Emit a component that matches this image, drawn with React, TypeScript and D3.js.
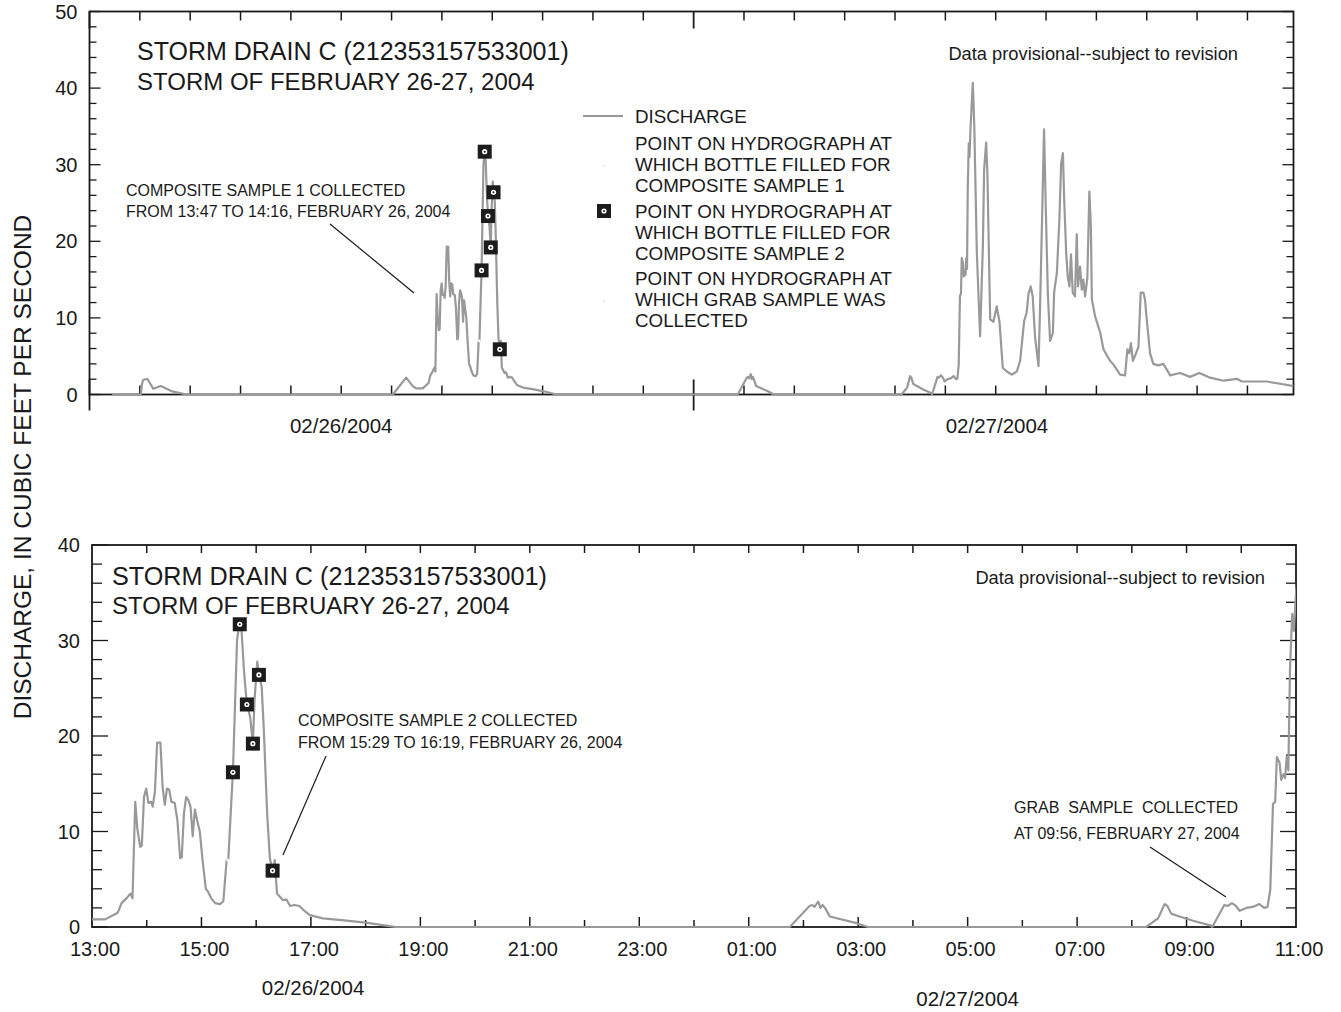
import { useEffect, useRef } from 'react'
import * as d3 from 'd3'

// Discharge record, hours since 00:00 on 02/26/2004
const hours = [
  0.9, 2.04, 2.08, 2.13, 2.3, 2.53, 2.83, 3.25, 3.72, 3.85,
  12.05, 12.58, 12.84, 12.95,
  13.0, 13.24, 13.47, 13.54, 13.63, 13.7, 13.74, 13.79, 13.83, 13.88, 13.91, 13.95, 13.99,
  14.03, 14.08, 14.11, 14.15, 14.19, 14.25, 14.29, 14.33, 14.37, 14.41, 14.45, 14.51, 14.56,
  14.61, 14.64, 14.68, 14.72, 14.76, 14.8, 14.84, 14.88, 14.92, 14.97, 15.02, 15.08, 15.12,
  15.18, 15.25, 15.34, 15.4, 15.46, 15.49, 15.55, 15.575, 15.65, 15.69, 15.73, 15.78, 15.83,
  15.89, 15.94, 15.97, 16.02, 16.05, 16.1, 16.14, 16.2, 16.25, 16.3, 16.34, 16.38, 16.43,
  16.49, 16.55, 16.62, 16.7, 16.79, 16.86, 16.98, 17.22, 17.65, 18.0, 18.44, 18.55,
  25.75, 26.03, 26.11, 26.16, 26.2, 26.27, 26.31, 26.35, 26.4, 26.48, 26.97, 27.18,
  32.26, 32.48, 32.6, 32.65, 32.72, 32.87, 33.12, 33.45, 33.47, 33.69, 33.75, 33.83, 33.9,
  33.97, 34.09, 34.21, 34.33, 34.42, 34.48, 34.53, 34.58, 34.62, 34.65, 34.7, 34.73, 34.77,
  34.8, 34.83, 34.86, 34.89, 34.93, 34.96, 35.0,
  35.09, 35.15, 35.25, 35.38, 35.49, 35.54, 35.62, 35.67, 35.78, 35.91, 36.04, 36.15, 36.28,
  36.44, 36.64, 36.84, 36.97, 37.13, 37.23, 37.3, 37.39, 37.47, 37.56, 37.7, 37.76, 37.85,
  37.92, 37.99, 38.07, 38.16, 38.27, 38.32, 38.43, 38.53, 38.6, 38.67, 38.72, 38.8, 38.86,
  38.93, 38.99, 39.06, 39.15, 39.22, 39.27, 39.35, 39.42, 39.48, 39.55, 39.64, 39.72, 39.78,
  39.82, 39.95, 40.15, 40.28, 40.54, 40.68, 40.94, 41.14, 41.23, 41.31, 41.37, 41.45, 41.54,
  41.67, 41.76, 41.87, 41.93, 42.0, 42.13, 42.26, 42.46, 42.66, 42.93, 43.32, 43.72, 44.09,
  44.52, 45.05, 45.58, 45.78, 46.77, 47.3, 47.83,
]
const discharge = [
  0, 0, 1.3, 1.9, 2.05, 0.75, 1.1, 0.45, 0.1, 0,
  0, 2.2, 1.1, 0.85,
  0.8, 0.8, 1.5, 2.5, 3.0, 3.5, 3.0, 13.1, 10.2, 8.4, 8.5, 13.6, 14.5,
  13.0, 13.1, 12.6, 14.2, 19.3, 19.3, 14.7, 12.8, 14.5, 14.4, 13.1, 13.0, 11.2,
  7.2, 7.3, 11.9, 13.6, 13.3, 12.6, 9.5, 12.3, 11.2, 10.0, 7.0, 4.0, 3.7,
  3.0, 2.5, 2.4, 2.7, 7.0, 7.0, 13.6, 16.2, 30.0, 31.7, 31.3, 26.6, 23.3,
  22.0, 19.2, 23.8, 27.8, 26.4, 25.2, 20.6, 11.9, 7.2, 5.9, 7.0, 3.5, 3.2,
  2.8, 2.9, 2.2, 2.3, 2.2, 1.8, 1.25, 0.9, 0.66, 0.45, 0.1, 0,
  0, 1.7, 2.2, 2.3, 2.1, 2.65, 2.0, 2.3, 1.95, 1.1, 0.4, 0,
  0, 0.9, 2.4, 2.2, 1.4, 1.1, 0.66, 0.15, 0, 2.3, 2.2, 2.5, 2.2,
  1.7, 2.0, 2.1, 2.4, 2.0, 2.1, 3.9, 12.9, 13.1, 17.8, 17.2, 15.4, 16.0,
  15.6, 17.8, 16.4, 26.9, 32.8, 31.0, 34.9,
  40.7, 35.0, 18.5, 7.6, 19.4, 29.4, 32.9, 28.9, 9.8, 9.5, 11.5, 9.5, 3.5,
  3.0, 2.6, 3.0, 4.4, 9.6, 10.7, 13.1, 14.1, 12.8, 7.6, 3.7, 11.0, 24.2,
  34.6, 24.2, 13.3, 7.0, 8.0, 13.3, 15.9, 22.9, 30.2, 31.5, 25.5, 18.5, 15.4,
  14.1, 18.3, 13.3, 12.8, 20.9, 14.1, 16.7, 13.7, 15.0, 12.8, 15.2, 26.5, 22.0,
  12.4, 10.2, 8.1, 5.9, 4.4, 3.9, 2.6, 2.5, 5.9, 5.4, 6.7, 4.4, 5.1,
  6.2, 13.3, 13.3, 12.4, 9.8, 5.4, 4.0, 3.8, 4.0, 2.5, 2.8, 2.3, 2.8,
  2.2, 1.8, 2.05, 1.7, 1.7, 1.4, 1.1,
]

// bottles filled for composite sample 2
const sampleHours = [15.575, 15.7, 15.83, 15.94, 16.05, 16.3]
const sampleValues = [16.2, 31.7, 23.3, 19.2, 26.4, 5.9]
// composite sample 1 point (very faint in the original)
const faintHours = [15.48]
const faintValues = [7.0]

const topYLabels = [0, 10, 20, 30, 40, 50]
const bottomYLabels = [0, 10, 20, 30, 40]
const hourLabels = ['13:00', '15:00', '17:00', '19:00', '21:00', '23:00', '01:00', '03:00', '05:00', '07:00', '09:00', '11:00']
const dateLabels = ['02/26/2004', '02/27/2004']

const FONT = '"Liberation Sans", Arial, Helvetica, sans-serif'
const INK = '#1a1a1a'
const LINE = '#999999'

export default function App() {
  const svgRef = useRef(null)

  useEffect(() => {
    if (!svgRef.current) return
    const width = 1341
    const height = 1012

    d3.select(svgRef.current).selectAll('*').remove()
    const svg = d3
      .select(svgRef.current)
      .attr('width', width)
      .attr('height', height)
      .style('font-family', FONT)

    const data = hours.map((h, i) => ({ h, v: discharge[i] }))

    const text = (g, x, y, s, size, anchor = 'start') =>
      g
        .append('text')
        .attr('x', x)
        .attr('y', y)
        .attr('font-size', size)
        .attr('text-anchor', anchor)
        .attr('fill', INK)
        .style('white-space', 'pre')
        .text(s)

    const seg = (g, x1, y1, x2, y2, w = 1.5) =>
      g
        .append('line')
        .attr('x1', x1)
        .attr('y1', y1)
        .attr('x2', x2)
        .attr('y2', y2)
        .attr('stroke', INK)
        .attr('stroke-width', w)

    const drawMarkers = (g, x, y) => {
      sampleHours.forEach((h, i) => {
        const cx = x(h)
        const cy = y(sampleValues[i])
        g.append('rect')
          .attr('x', cx - 7)
          .attr('y', cy - 7)
          .attr('width', 14)
          .attr('height', 14)
          .attr('fill', '#1c1c1c')
        g.append('circle').attr('cx', cx).attr('cy', cy).attr('r', 2.6).attr('fill', '#fff')
        g.append('circle').attr('cx', cx).attr('cy', cy).attr('r', 1).attr('fill', '#1c1c1c')
      })
      faintHours.forEach((h, i) => {
        g.append('circle').attr('cx', x(h)).attr('cy', y(faintValues[i])).attr('r', 1.4).attr('fill', '#fff')
      })
    }

    // y axis ticks on both sides, label on the left
    const yAxes = (g, x, y, max, minorLen, majorLen, labels) => {
      const [x0, x1] = x.range()
      d3.range(0, max + 1, 2).forEach(v => {
        const len = v % 10 === 0 ? majorLen : minorLen
        seg(g, x0, y(v), x0 + len, y(v), 1.3)
        seg(g, x1, y(v), x1 - len, y(v), 1.3)
      })
      labels.forEach(v => {
        text(g, x0 - 12, y(v), String(v), 20, 'end').attr('dy', '0.35em')
      })
    }

    const frame = (g, x, y) => {
      const [x0, x1] = x.range()
      const [y0, y1] = y.range()
      g.append('rect')
        .attr('x', x0)
        .attr('y', y1)
        .attr('width', x1 - x0)
        .attr('height', y0 - y1)
        .attr('fill', 'none')
        .attr('stroke', INK)
        .attr('stroke-width', 1.8)
    }

    const hydro = (g, x, y, id) => {
      const [x0, x1] = x.range()
      const [y0, y1] = y.range()
      svg
        .append('defs')
        .append('clipPath')
        .attr('id', id)
        .append('rect')
        .attr('x', x0)
        .attr('y', y1 - 2)
        .attr('width', x1 - x0)
        .attr('height', y0 - y1 + 4)
      const line = d3
        .line()
        .x(d => x(d.h))
        .y(d => y(d.v))
      g.append('path')
        .datum(data)
        .attr('clip-path', `url(#${id})`)
        .attr('fill', 'none')
        .attr('stroke', LINE)
        .attr('stroke-width', 2.2)
        .attr('stroke-linejoin', 'round')
        .attr('d', line)
    }

    // ---------- top panel: two days ----------
    const xTop = d3.scaleLinear().domain([0, 47.83]).range([89.5, 1293.5])
    const yTop = d3.scaleLinear().domain([0, 50]).range([394.5, 11.5])
    const top = svg.append('g')

    frame(top, xTop, yTop)
    yAxes(top, xTop, yTop, 50, 7, 11, topYLabels)
    d3.range(2, 48, 2).forEach(h => {
      if (h === 24) return
      seg(top, xTop(h), yTop(0), xTop(h), yTop(0) - 9, 1.5)
      seg(top, xTop(h), yTop(50), xTop(h), yTop(50) + 9, 1.5)
    })
    ;[0, 24].forEach(h => {
      seg(top, xTop(h), yTop(0) - 15, xTop(h), yTop(0) + 16, 1.8)
      seg(top, xTop(h), yTop(50), xTop(h), yTop(50) + 17, 1.8)
    })
    hydro(top, xTop, yTop, 'clip-top')
    drawMarkers(top, xTop, yTop)

    text(top, xTop(10), 433, dateLabels[0], 20.5, 'middle')
    text(top, xTop(36.05), 433, dateLabels[1], 20.5, 'middle')

    text(top, 137, 60, 'STORM DRAIN C (212353157533001)', 25)
    text(top, 137, 90, 'STORM OF FEBRUARY 26-27, 2004', 24)
    text(top, 1238, 60, 'Data provisional--subject to revision', 18.3, 'end')

    // legend
    top.append('line')
      .attr('x1', 583).attr('y1', 116).attr('x2', 623).attr('y2', 116)
      .attr('stroke', LINE).attr('stroke-width', 2.2)
    text(top, 635, 123, 'DISCHARGE', 18.8)
    const legendRows = [
      ['POINT ON HYDROGRAPH AT', 'WHICH BOTTLE FILLED FOR', 'COMPOSITE SAMPLE 1'],
      ['POINT ON HYDROGRAPH AT', 'WHICH BOTTLE FILLED FOR', 'COMPOSITE SAMPLE 2'],
      ['POINT ON HYDROGRAPH AT', 'WHICH GRAB SAMPLE WAS', 'COLLECTED'],
    ]
    legendRows.forEach((rows, i) => {
      rows.forEach((r, j) => text(top, 635, 150 + i * 67.5 + j * 21, r, 18.8))
    })
    top.append('circle').attr('cx', 604).attr('cy', 166).attr('r', 1).attr('fill', '#e4e4e4')
    top.append('circle').attr('cx', 604).attr('cy', 301).attr('r', 1).attr('fill', '#e4e4e4')
    top.append('rect').attr('x', 597).attr('y', 204).attr('width', 14).attr('height', 14).attr('fill', '#1c1c1c')
    top.append('circle').attr('cx', 604).attr('cy', 211).attr('r', 2.6).attr('fill', '#fff')
    top.append('circle').attr('cx', 604).attr('cy', 211).attr('r', 1).attr('fill', '#1c1c1c')

    text(top, 126, 196, 'COMPOSITE SAMPLE 1 COLLECTED', 16)
    text(top, 126, 217, 'FROM 13:47 TO 14:16, FEBRUARY 26, 2004', 16)
    seg(top, 330, 224, 414, 293, 1.2)

    // ---------- bottom panel: 13:00 to 11:00 ----------
    const xBot = d3.scaleLinear().domain([13, 35]).range([92, 1296])
    const yBot = d3.scaleLinear().domain([0, 40]).range([927, 545])
    const bot = svg.append('g')

    frame(bot, xBot, yBot)
    yAxes(bot, xBot, yBot, 40, 10, 16, bottomYLabels)
    d3.range(14, 35, 1).forEach(h => {
      const len = (h - 13) % 2 === 0 ? 10 : 7
      seg(bot, xBot(h), yBot(0), xBot(h), yBot(0) - len, 1.5)
      seg(bot, xBot(h), yBot(40), xBot(h), yBot(40) + 8, 1.5)
    })
    hourLabels.forEach((s, i) => {
      text(bot, xBot(13 + i * 2) + 3, 956, s, 20, 'middle')
    })
    text(bot, xBot(17.04), 995, dateLabels[0], 20.5, 'middle')
    text(bot, xBot(29), 1006, dateLabels[1], 20.5, 'middle')

    hydro(bot, xBot, yBot, 'clip-bot')
    drawMarkers(bot, xBot, yBot)

    text(bot, 112, 585, 'STORM DRAIN C (212353157533001)', 25.2)
    text(bot, 112, 614, 'STORM OF FEBRUARY 26-27, 2004', 24)
    text(bot, 1265, 584, 'Data provisional--subject to revision', 18.3, 'end')

    text(bot, 298, 726, 'COMPOSITE SAMPLE 2 COLLECTED', 16)
    text(bot, 298, 748, 'FROM 15:29 TO 16:19, FEBRUARY 26, 2004', 16)
    seg(bot, 326, 756, 283, 855, 1.2)

    text(bot, 1014, 813, 'GRAB  SAMPLE  COLLECTED', 16)
    text(bot, 1014, 839, 'AT 09:56, FEBRUARY 27, 2004', 16)
    seg(bot, 1150, 847, 1226, 897, 1.2)

    // shared y label
    svg
      .append('text')
      .attr('transform', 'translate(31, 467) rotate(-90)')
      .attr('text-anchor', 'middle')
      .attr('font-size', 24.5)
      .attr('fill', INK)
      .text('DISCHARGE, IN CUBIC FEET PER SECOND')
  }, [])

  return (
    <div style={{ position: 'absolute', left: 0, top: 0, background: '#fff' }}>
      <svg ref={svgRef} style={{ display: 'block' }}></svg>
    </div>
  )
}
